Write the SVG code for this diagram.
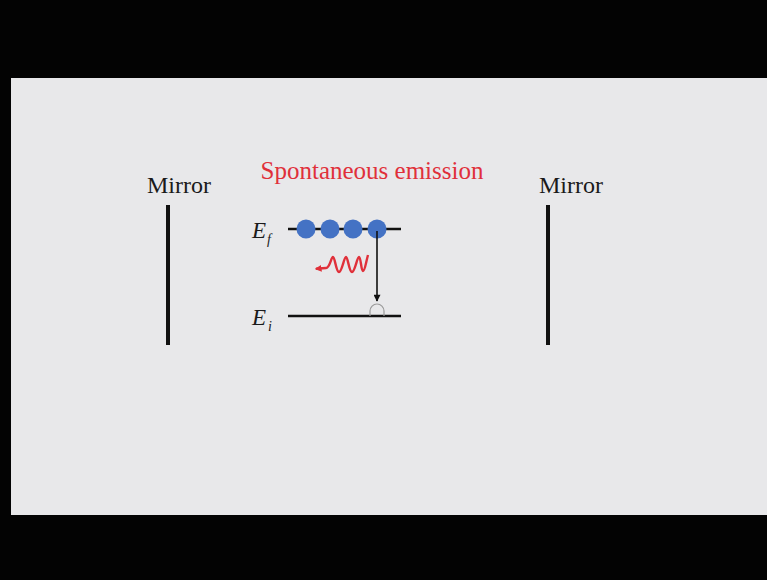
<svg xmlns="http://www.w3.org/2000/svg" width="767" height="580" viewBox="0 0 767 580">
  <style>
    .serif { font-family: "Liberation Serif", "Times New Roman", serif; fill: #1a1a1a; }
    .mirror-label { font-size: 24px; text-anchor: middle; }
    .sym { font-size: 23px; font-style: italic; }
    .sub { font-size: 14px; font-style: italic; }
    .mirror { stroke: #111; stroke-width: 4; }
    .level { stroke: #111; stroke-width: 2.5; }
    .electron { fill: #4472c4; }
  </style>
  <defs>
    <marker id="down-head" viewBox="0 0 10 10" refX="9" refY="5" markerWidth="8" markerHeight="7" orient="auto" markerUnits="userSpaceOnUse">
      <path d="M0,0 L10,5 L0,10 Z" fill="#111"/>
    </marker>
    <marker id="photon-head" viewBox="0 0 10 10" refX="8" refY="5" markerWidth="7" markerHeight="7" orient="auto" markerUnits="userSpaceOnUse">
      <path d="M0,0 L10,5 L0,10 Z" fill="#e0303a"/>
    </marker>
  </defs>

  <!-- frame -->
  <rect x="0" y="0" width="767" height="580" fill="#030303"/>
  <rect x="11" y="78" width="756" height="437" fill="#e8e8ea"/>

  <g id="mirror-left">
    <text class="serif mirror-label" x="179" y="193">Mirror</text>
    <line class="mirror" x1="168" y1="205" x2="168" y2="345"/>
  </g>

  <g id="mirror-right">
    <text class="serif mirror-label" x="571" y="193">Mirror</text>
    <line class="mirror" x1="548" y1="205" x2="548" y2="345"/>
  </g>

  <g id="title">
    <text x="372" y="179" font-family="'Liberation Serif', 'Times New Roman', serif" font-size="25" fill="#e0303a" text-anchor="middle">Spontaneous emission</text>
  </g>

  <g id="level-upper">
    <text class="serif sym" x="252" y="238">E</text>
    <text class="serif sub" x="267" y="244">f</text>
    <line class="level" x1="288" y1="229" x2="401" y2="229"/>
    <circle class="electron" cx="306" cy="229" r="9.5"/>
    <circle class="electron" cx="330" cy="229" r="9.5"/>
    <circle class="electron" cx="353" cy="229" r="9.5"/>
    <circle class="electron" cx="377" cy="229" r="9.5"/>
  </g>

  <g id="level-lower">
    <text class="serif sym" x="252" y="325">E</text>
    <text class="serif sub" x="268" y="331">i</text>
    <line class="level" x1="288" y1="316" x2="401" y2="316"/>
    <path d="M370,316 L370,311 A7,7 0 0 1 384,311 L384,316" fill="none" stroke="#9a9a9a" stroke-width="1.2"/>
  </g>

  <g id="connectors">
    <line x1="377" y1="231" x2="377" y2="301" stroke="#111" stroke-width="1.6" marker-end="url(#down-head)"/>
    <path d="M326,268 L316,268.8" fill="none" stroke="#e0303a" stroke-width="2.4" marker-end="url(#photon-head)"/>
    <path d="M368,255 C366,262 365,271 363,271 C361,271 361,257 359,257 C357,257 355,272 352,272 C349,272 348,257 346,257 C344,257 342,272 339,272 C336,272 335,257 333,257 C331,257 330,268 326,268" fill="none" stroke="#e0303a" stroke-width="2.4" stroke-linejoin="round"/>
  </g>
</svg>
